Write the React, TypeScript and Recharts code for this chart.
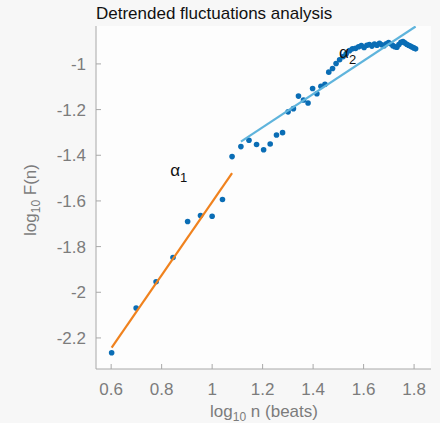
import React from 'react';
import { ScatterChart, Scatter, XAxis, YAxis, CartesianGrid, ReferenceDot } from 'recharts';

// log10 of the box size n (beats)
const logN = [
  0.602, 0.699, 0.778, 0.845, 0.903, 0.954, 1.0, 1.041, 1.079, 1.114, 1.146, 1.176, 1.204,
  1.23, 1.255, 1.279, 1.301, 1.322, 1.342, 1.362, 1.38, 1.398, 1.415, 1.431, 1.447, 1.462,
  1.477, 1.491, 1.505, 1.519, 1.531, 1.544, 1.556, 1.568, 1.58, 1.591, 1.602, 1.613, 1.623,
  1.633, 1.643, 1.653, 1.663, 1.672, 1.681, 1.69, 1.699, 1.708, 1.716, 1.724, 1.732, 1.74,
  1.748, 1.756, 1.763, 1.771, 1.778, 1.785, 1.792, 1.799, 1.806,
];

// log10 F(n)
const logF = [
  -2.265, -2.069, -1.954, -1.848, -1.69, -1.664, -1.667, -1.594, -1.406, -1.362, -1.334, -1.353,
  -1.376, -1.351, -1.311, -1.301, -1.21, -1.196, -1.141, -1.158, -1.171, -1.108, -1.131, -1.098,
  -1.089, -1.036, -1.02, -0.998, -0.982, -0.968, -0.956, -0.942, -0.934, -0.932, -0.925, -0.92,
  -0.928, -0.918, -0.915, -0.922, -0.913, -0.918, -0.91, -0.916, -0.92, -0.912, -0.906, -0.912,
  -0.92, -0.925, -0.927, -0.915, -0.905, -0.902, -0.908, -0.914, -0.918, -0.922, -0.926, -0.93,
  -0.934,
];

// fitted lines (short and long range)
const alpha1X = [0.602, 1.079];
const alpha1Y = [-2.242, -1.478];
const alpha2X = [1.114, 1.806];
const alpha2Y = [-1.34, -0.836];

const xTicks = [0.6, 0.8, 1, 1.2, 1.4, 1.6, 1.8];
const yTicks = [-2.2, -2, -1.8, -1.6, -1.4, -1.2, -1];

const points = logN.map((x, i) => ({ x, y: logF[i] }));
const fit1 = alpha1X.map((x, i) => ({ x, y: alpha1Y[i] }));
const fit2 = alpha2X.map((x, i) => ({ x, y: alpha2Y[i] }));

const AXIS = '#a8a8a8';
const TICK_TXT = '#7c7c7c';
const FONT = '"Helvetica Neue", Helvetica, Arial, "Liberation Sans", sans-serif';
const TL = 5;

const fmt = (v: number) => String(Number(v.toFixed(1)));

const BottomTick = (p: any) => (
  <g>
    <line x1={p.x} y1={p.y - 14} x2={p.x} y2={p.y - 14 - TL} stroke={AXIS} />
    <text x={p.x} y={p.y} dy="0.72em" textAnchor="middle" fill={TICK_TXT} fontSize={17} fontFamily={FONT}>
      {fmt(p.payload.value)}
    </text>
  </g>
);

const LeftTick = (p: any) => (
  <g>
    <line x1={p.x + 10} y1={p.y} x2={p.x + 10 + TL} y2={p.y} stroke={AXIS} />
    <text x={p.x} y={p.y} dy="0.36em" textAnchor="end" fill={TICK_TXT} fontSize={17} fontFamily={FONT}>
      {fmt(p.payload.value)}
    </text>
  </g>
);

const TopTick = (p: any) => <line x1={p.x} y1={p.y} x2={p.x} y2={p.y + TL} stroke={AXIS} />;
const RightTick = (p: any) => <line x1={p.x} y1={p.y} x2={p.x - TL} y2={p.y} stroke={AXIS} />;

const Dot = (p: any) => <circle cx={p.cx} cy={p.cy} r={2.8} fill="#0a6db5" />;
const NoDot = () => <g />;

const alphaLabel = (sub: string) => (p: any) => (
  <text x={p.cx} y={p.cy} fill="#111" fontFamily={FONT}>
    <tspan fontSize={17}>α</tspan>
    <tspan fontSize={13} dy={6}>{sub}</tspan>
  </text>
);

export default function App() {
  return (
    <div style={{ position: 'absolute', left: 0, top: 0, width: 440, height: 423, overflow: 'hidden', background: '#f7f7f7', fontFamily: FONT }}>
      <ScatterChart width={440} height={423} margin={{ top: 26, right: 9, bottom: 24, left: 36 }}>
        <CartesianGrid horizontal={false} vertical={false} fill="#fdfdfd" />
        <XAxis
          xAxisId="b"
          dataKey="x"
          type="number"
          domain={[0.54, 1.867]}
          ticks={xTicks}
          allowDataOverflow
          height={30}
          tickSize={0}
          tickMargin={14}
          tickLine={false}
          axisLine={{ stroke: AXIS }}
          tick={BottomTick}
        />
        <XAxis
          xAxisId="t"
          orientation="top"
          dataKey="x"
          type="number"
          domain={[0.54, 1.867]}
          ticks={xTicks}
          allowDataOverflow
          height={0}
          tickSize={0}
          tickMargin={0}
          tickLine={false}
          axisLine={{ stroke: AXIS }}
          tick={TopTick}
        />
        <YAxis
          yAxisId="l"
          dataKey="y"
          type="number"
          domain={[-2.336, -0.834]}
          ticks={yTicks}
          allowDataOverflow
          width={60}
          tickSize={0}
          tickMargin={10}
          tickLine={false}
          axisLine={{ stroke: AXIS }}
          tick={LeftTick}
        />
        <YAxis
          yAxisId="r"
          orientation="right"
          dataKey="y"
          type="number"
          domain={[-2.336, -0.834]}
          ticks={yTicks}
          allowDataOverflow
          width={0}
          tickSize={0}
          tickMargin={0}
          tickLine={false}
          axisLine={{ stroke: AXIS }}
          tick={RightTick}
        />
        <Scatter xAxisId="b" yAxisId="l" data={points} shape={Dot} isAnimationActive={false} />
        <Scatter
          xAxisId="b"
          yAxisId="l"
          data={fit1}
          shape={NoDot}
          line={{ stroke: '#f0821e', strokeWidth: 2.2 }}
          isAnimationActive={false}
        />
        <Scatter
          xAxisId="b"
          yAxisId="l"
          data={fit2}
          shape={NoDot}
          line={{ stroke: '#5fb4dc', strokeWidth: 2.2 }}
          isAnimationActive={false}
        />
        <ReferenceDot xAxisId="b" yAxisId="l" x={0.834} y={-1.49} r={0} shape={alphaLabel('1')} />
        <ReferenceDot xAxisId="b" yAxisId="l" x={1.503} y={-0.974} r={0} shape={alphaLabel('2')} />
      </ScatterChart>
      <div style={{ position: 'absolute', left: 96, top: 5, fontSize: 17, lineHeight: '18px', color: '#111', whiteSpace: 'nowrap' }}>
        Detrended fluctuations analysis
      </div>
      <div style={{ position: 'absolute', left: 264, top: 411, transform: 'translate(-50%, -50%)', fontSize: 17, lineHeight: '17px', color: TICK_TXT, whiteSpace: 'nowrap' }}>
        log<sub style={{ fontSize: 12, lineHeight: 0 }}>10</sub> n (beats)
      </div>
      <div style={{ position: 'absolute', left: 30, top: 200, transform: 'translate(-50%, -50%) rotate(-90deg)', fontSize: 17, lineHeight: '17px', color: TICK_TXT, whiteSpace: 'nowrap' }}>
        log<sub style={{ fontSize: 12, lineHeight: 0 }}>10</sub> F(n)
      </div>
    </div>
  );
}
